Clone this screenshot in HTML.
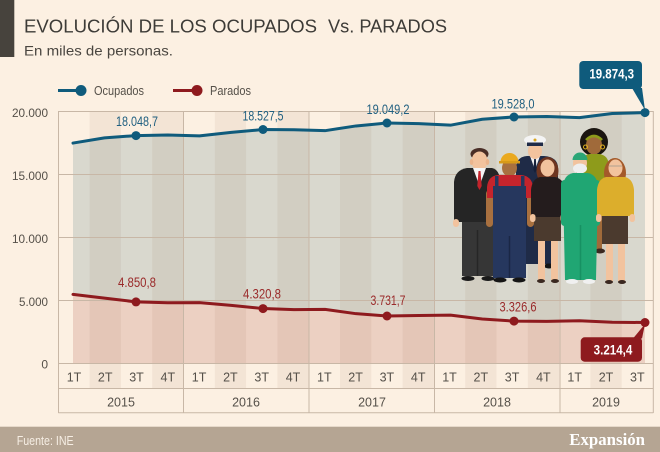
<!DOCTYPE html>
<html><head><meta charset="utf-8"><style>
html,body{margin:0;padding:0;background:#fcf0e2;}
svg{display:block;font-family:"Liberation Sans",sans-serif;}
</style></head><body>
<svg width="660" height="452" viewBox="0 0 660 452" xmlns="http://www.w3.org/2000/svg">
<rect x="0" y="0" width="660" height="452" fill="#fcf0e2"/>
<rect x="0" y="0" width="14.3" height="57" fill="#47433d"/>
<text x="24" y="32.3" font-size="18.5" fill="#3d3b37" textLength="293" lengthAdjust="spacingAndGlyphs">EVOLUCIÓN DE LOS OCUPADOS</text>
<text x="328" y="32.3" font-size="18.5" fill="#3d3b37" textLength="119" lengthAdjust="spacingAndGlyphs">Vs. PARADOS</text>
<text x="24" y="55.7" font-size="14" fill="#4a4640" textLength="149" lengthAdjust="spacingAndGlyphs">En miles de personas.</text>

<!-- legend -->
<line x1="58" y1="90.5" x2="80" y2="90.5" stroke="#0f5b7c" stroke-width="3"/>
<circle cx="81" cy="90.5" r="5.5" fill="#0f5b7c"/>
<text x="94" y="95.2" font-size="12.5" fill="#555049" textLength="50" lengthAdjust="spacingAndGlyphs">Ocupados</text>
<line x1="173" y1="90.5" x2="196" y2="90.5" stroke="#8e1a1e" stroke-width="3"/>
<circle cx="197" cy="90.5" r="5.5" fill="#8e1a1e"/>
<text x="210" y="95.2" font-size="12.5" fill="#555049" textLength="41" lengthAdjust="spacingAndGlyphs">Parados</text>

<!-- fills -->
<polygon fill="#d9d8ce" points="73,143.07 104.5,137.88 136,135.59 167.75,135.01 199.5,135.83 231.25,132.41 263,129.55 294,129.8 325,130.68 356,125.95 387,122.98 418.75,123.62 450.5,125.18 482.25,119.26 514,116.95 546.75,116.49 579.5,117.66 612.25,113.46 645,112.58 645,322.5 612.25,322.29 579.5,320.74 546.75,321.37 514,321.08 482.25,319.03 450.5,315.17 418.75,315.54 387,315.98 356,313.68 325,309.39 294,309.6 263,308.56 231.25,305.36 199.5,302.63 167.75,302.78 136,301.88 104.5,298.12 73,294.4"/>
<polygon fill="#ecd0c2" points="73,294.4 104.5,298.12 136,301.88 167.75,302.78 199.5,302.63 231.25,305.36 263,308.56 294,309.6 325,309.39 356,313.68 387,315.98 418.75,315.54 450.5,315.17 482.25,319.03 514,321.08 546.75,321.37 579.5,320.74 612.25,322.29 645,322.5 645,363 73,363"/>

<!-- stripes -->
<g fill="rgb(90,45,0)" fill-opacity="0.055">
<rect x="89.6" y="111" width="31.3" height="277"/>
<rect x="152.2" y="111" width="31.3" height="277"/>
<rect x="214.8" y="111" width="31.3" height="277"/>
<rect x="277.4" y="111" width="31.3" height="277"/>
<rect x="340.0" y="111" width="31.3" height="277"/>
<rect x="402.6" y="111" width="31.3" height="277"/>
<rect x="465.2" y="111" width="31.3" height="277"/>
<rect x="527.8" y="111" width="31.3" height="277"/>
<rect x="590.4" y="111" width="31.3" height="277"/>
</g>

<!-- grid -->
<g stroke="#c8b7a6" stroke-width="1">
<line x1="58.3" y1="111.5" x2="653.3" y2="111.5"/>
<line x1="58.3" y1="174.5" x2="653.3" y2="174.5"/>
<line x1="58.3" y1="237.5" x2="653.3" y2="237.5"/>
<line x1="58.3" y1="300.5" x2="653.3" y2="300.5"/>
<line x1="58.3" y1="363.5" x2="653.3" y2="363.5"/>
<line x1="58.3" y1="388.5" x2="653.3" y2="388.5"/>
<line x1="58.3" y1="412.7" x2="653.3" y2="412.7"/>
<line x1="58.5" y1="111" x2="58.5" y2="413"/>
<line x1="183.5" y1="111" x2="183.5" y2="413"/>
<line x1="309" y1="111" x2="309" y2="413"/>
<line x1="434.5" y1="111" x2="434.5" y2="413"/>
<line x1="560" y1="111" x2="560" y2="413"/>
<line x1="653.3" y1="111" x2="653.3" y2="413"/>
</g>

<!-- y labels -->
<g font-size="12" fill="#555049" text-anchor="end">
<text x="48" y="117" textLength="36" lengthAdjust="spacingAndGlyphs">20.000</text>
<text x="48" y="180" textLength="36" lengthAdjust="spacingAndGlyphs">15.000</text>
<text x="48" y="243" textLength="36" lengthAdjust="spacingAndGlyphs">10.000</text>
<text x="48" y="306" textLength="29" lengthAdjust="spacingAndGlyphs">5.000</text>
<text x="48" y="368.5">0</text>
</g>

<!-- x tick labels -->
<g font-size="12.5" fill="#555049" text-anchor="middle">
<text x="74" y="381.5">1T</text><text x="105.2" y="381.5">2T</text><text x="136.5" y="381.5">3T</text><text x="167.8" y="381.5">4T</text>
<text x="199.1" y="381.5">1T</text><text x="230.4" y="381.5">2T</text><text x="261.7" y="381.5">3T</text><text x="293" y="381.5">4T</text>
<text x="324.3" y="381.5">1T</text><text x="355.6" y="381.5">2T</text><text x="386.9" y="381.5">3T</text><text x="418.2" y="381.5">4T</text>
<text x="449.5" y="381.5">1T</text><text x="480.8" y="381.5">2T</text><text x="512.1" y="381.5">3T</text><text x="543.4" y="381.5">4T</text>
<text x="574.7" y="381.5">1T</text><text x="606" y="381.5">2T</text><text x="637.3" y="381.5">3T</text>
<text x="121" y="406.5">2015</text>
<text x="246" y="406.5">2016</text>
<text x="372" y="406.5">2017</text>
<text x="497" y="406.5">2018</text>
<text x="606" y="406.5">2019</text>
</g>

<!-- people illustration -->
<g>
<!-- captain (back) -->
<path d="M516,168 Q516,157 527,156 L544,156 Q558,157 558,168 L558,264 L516,264 Z" fill="#1f2b47"/>
<polygon points="530,156 540,156 535,170" fill="#f2f2f2"/>
<polygon points="534.2,158 535.8,158 536.5,170 535,173 533.5,170" fill="#15203a"/>
<ellipse cx="535" cy="151" rx="7" ry="8" fill="#f2c39e"/>
<ellipse cx="535" cy="140" rx="11" ry="5" fill="#f4f4f4"/>
<rect x="527" y="142.5" width="16" height="3.5" fill="#1f2b47"/>
<circle cx="535" cy="140" r="1.5" fill="#d9a520"/>
<ellipse cx="549" cy="266" rx="5" ry="2.5" fill="#151515"/>
<!-- green dress woman (back) -->
<circle cx="594" cy="142" r="14" fill="#1b1510"/>
<rect x="591" y="150" width="6" height="6" fill="#a06a3a"/>
<ellipse cx="594" cy="145" rx="8" ry="9.5" fill="#a06a3a"/>
<path d="M586,140 Q594,132 602,140" stroke="#8e9b1b" stroke-width="2.5" fill="none"/>
<circle cx="585.5" cy="147" r="2" fill="none" stroke="#e0b020" stroke-width="1"/>
<circle cx="602.5" cy="147" r="2" fill="none" stroke="#e0b020" stroke-width="1"/>
<rect x="576" y="160" width="6" height="60" rx="3" fill="#a06a3a"/>
<path d="M580,165 Q581,155 590,154 L599,154 Q608,155 609,165 L609,212 L580,212 Z" fill="#8e9b1b"/>
<rect x="595" y="212" width="7" height="38" fill="#a06a3a"/>
<ellipse cx="600" cy="251" rx="5" ry="2.5" fill="#3a2820"/>
<!-- suit man -->
<ellipse cx="479.5" cy="154" rx="9" ry="6" fill="#4a2e26"/>
<ellipse cx="479.5" cy="161" rx="8" ry="9.5" fill="#f2c39e"/>
<ellipse cx="471.5" cy="162" rx="1.8" ry="3" fill="#eab48c"/>
<ellipse cx="487.5" cy="162" rx="1.8" ry="3" fill="#eab48c"/>
<rect x="462" y="217" width="31" height="59" fill="#363636"/>
<line x1="477.5" y1="230" x2="477.5" y2="276" stroke="#262626" stroke-width="1.5"/>
<path d="M454,182 Q455,170 467,168 L492,168 Q500,170 500,182 L500,222 L454,222 Z" fill="#252525"/>
<polygon points="473,168 486,168 479.5,186" fill="#f5f5f5"/>
<polygon points="478.5,171 480.5,171 481.7,186 479.5,190 477.3,186" fill="#c4232b"/>
<rect x="453" y="219" width="6" height="8" rx="3" fill="#f2c39e"/>
<rect x="494" y="219" width="6" height="8" rx="3" fill="#f2c39e"/>
<ellipse cx="468" cy="278.5" rx="6.5" ry="2.5" fill="#1a1a1a"/>
<ellipse cx="488" cy="278.5" rx="6.5" ry="2.5" fill="#1a1a1a"/>
<!-- worker -->
<ellipse cx="509.5" cy="168" rx="7.5" ry="8.5" fill="#a8703f"/>
<path d="M500.5,162 A9,9 0 0 1 518.5,162 Z" fill="#eaa91f"/>
<rect x="499" y="161" width="21" height="2.5" fill="#d79a18"/>
<rect x="486" y="190" width="7" height="37" rx="3.5" fill="#a8703f"/>
<rect x="527" y="190" width="7" height="37" rx="3.5" fill="#a8703f"/>
<path d="M487,187 Q488,176 498,175 L521,175 Q532,176 533,187 L533,198 L487,198 Z" fill="#c5242c"/>
<rect x="493" y="186" width="33" height="92" fill="#26375e"/>
<rect x="495" y="176" width="3.5" height="12" fill="#26375e"/>
<rect x="521" y="176" width="3.5" height="12" fill="#26375e"/>
<line x1="509.5" y1="236" x2="509.5" y2="278" stroke="#1a2745" stroke-width="1.5"/>
<ellipse cx="500" cy="280" rx="6.5" ry="2.5" fill="#151515"/>
<ellipse cx="519" cy="280" rx="6.5" ry="2.5" fill="#151515"/>
<!-- dark jacket woman -->
<ellipse cx="547.5" cy="171" rx="11" ry="14" fill="#6e3520"/>
<ellipse cx="547.5" cy="168" rx="7" ry="8.5" fill="#f2c39e"/>
<rect x="538" y="240" width="7" height="40" fill="#f2c39e"/>
<rect x="551" y="240" width="7" height="40" fill="#f2c39e"/>
<rect x="534" y="212" width="27" height="29" fill="#4b3a2e"/>
<path d="M531,190 Q532,179 540,177 L555,177 Q564,179 565,190 L565,217 L531,217 Z" fill="#241c1d"/>
<rect x="530" y="214" width="5.5" height="8" rx="2.7" fill="#f2c39e"/>
<rect x="560.5" y="214" width="5.5" height="8" rx="2.7" fill="#f2c39e"/>
<ellipse cx="541" cy="281" rx="4" ry="2" fill="#3a2820"/>
<ellipse cx="555" cy="281" rx="4" ry="2" fill="#3a2820"/>
<!-- doctor -->
<ellipse cx="580" cy="163" rx="7" ry="8.5" fill="#f2c39e"/>
<path d="M572.5,160 A7.5,7.5 0 0 1 587.5,160 Z" fill="#2aa676"/>
<ellipse cx="580" cy="168.5" rx="7" ry="5" fill="#eeeeee"/>
<rect x="561" y="180" width="7" height="46" rx="3.5" fill="#20a673"/>
<rect x="593" y="180" width="7" height="46" rx="3.5" fill="#20a673"/>
<path d="M563,186 Q564,175 573,173 L588,173 Q597,175 598,186 L596,280 L565,280 Z" fill="#20a673"/>
<line x1="580.5" y1="225" x2="580.5" y2="280" stroke="#179163" stroke-width="1.5"/>
<ellipse cx="572" cy="281.5" rx="6" ry="2.5" fill="#f0f0f0"/>
<ellipse cx="589" cy="281.5" rx="6" ry="2.5" fill="#f0f0f0"/>
<!-- yellow woman -->
<ellipse cx="615" cy="173" rx="11" ry="15" fill="#a45a2a"/>
<ellipse cx="615.5" cy="168" rx="7" ry="8.5" fill="#f2c39e"/>
<line x1="609" y1="166" x2="622" y2="166" stroke="#b0a090" stroke-width="1"/>
<rect x="606" y="243" width="7" height="38" fill="#f2c39e"/>
<rect x="618" y="243" width="7" height="38" fill="#f2c39e"/>
<rect x="602" y="213" width="26" height="31" fill="#4b3a2e"/>
<path d="M597,190 Q598,179 606,177 L625,177 Q633,179 634,190 L634,216 L597,216 Z" fill="#dcae2c"/>
<rect x="596" y="214" width="5.5" height="8" rx="2.7" fill="#f2c39e"/>
<rect x="629.5" y="214" width="5.5" height="8" rx="2.7" fill="#f2c39e"/>
<ellipse cx="609" cy="282" rx="4" ry="2" fill="#3a2820"/>
<ellipse cx="622" cy="282" rx="4" ry="2" fill="#3a2820"/>
</g>

<!-- series lines -->
<polyline fill="none" stroke="#0f5b7c" stroke-width="3" stroke-linejoin="round" stroke-linecap="round" points="73,143.07 104.5,137.88 136,135.59 167.75,135.01 199.5,135.83 231.25,132.41 263,129.55 294,129.8 325,130.68 356,125.95 387,122.98 418.75,123.62 450.5,125.18 482.25,119.26 514,116.95 546.75,116.49 579.5,117.66 612.25,113.46 645,112.58"/>
<polyline fill="none" stroke="#8e1a1e" stroke-width="3" stroke-linejoin="round" stroke-linecap="round" points="73,294.4 104.5,298.12 136,301.88 167.75,302.78 199.5,302.63 231.25,305.36 263,308.56 294,309.6 325,309.39 356,313.68 387,315.98 418.75,315.54 450.5,315.17 482.25,319.03 514,321.08 546.75,321.37 579.5,320.74 612.25,322.29 645,322.5"/>
<g fill="#0f5b7c">
<circle cx="136" cy="135.6" r="4.5"/><circle cx="263" cy="129.5" r="4.5"/><circle cx="387" cy="123" r="4.5"/><circle cx="514" cy="117" r="4.5"/><circle cx="645" cy="112.6" r="4.5"/>
</g>
<g fill="#8e1a1e">
<circle cx="136" cy="301.9" r="4.5"/><circle cx="263" cy="308.6" r="4.5"/><circle cx="387" cy="316" r="4.5"/><circle cx="514" cy="321.1" r="4.5"/><circle cx="645" cy="322.5" r="4.5"/>
</g>

<!-- data labels -->
<g font-size="13.5" fill="#1f5f80" text-anchor="middle">
<text x="137" y="126" textLength="42" lengthAdjust="spacingAndGlyphs">18.048,7</text>
<text x="263" y="120.7" textLength="41" lengthAdjust="spacingAndGlyphs">18.527,5</text>
<text x="388" y="114" textLength="43" lengthAdjust="spacingAndGlyphs">19.049,2</text>
<text x="513" y="108.7" textLength="43" lengthAdjust="spacingAndGlyphs">19.528,0</text>
</g>
<g font-size="13.5" fill="#9a2a2a" text-anchor="middle">
<text x="137" y="287" textLength="38" lengthAdjust="spacingAndGlyphs">4.850,8</text>
<text x="262" y="298.3" textLength="38" lengthAdjust="spacingAndGlyphs">4.320,8</text>
<text x="388" y="305" textLength="35" lengthAdjust="spacingAndGlyphs">3.731,7</text>
<text x="518" y="311.7" textLength="37" lengthAdjust="spacingAndGlyphs">3.326,6</text>
</g>

<!-- callouts -->
<rect x="579.3" y="61" width="62.7" height="28" rx="4" fill="#0f5b7c"/>
<polygon points="632,88 642,88 645,110" fill="#0f5b7c"/>
<text x="611.7" y="78.5" font-size="13.5" font-weight="bold" fill="#ffffff" text-anchor="middle" textLength="44.7" lengthAdjust="spacingAndGlyphs">19.874,3</text>
<rect x="580.7" y="337.3" width="61.3" height="24.4" rx="4" fill="#8e1a1e"/>
<polygon points="633,338.5 642,338.5 645,324" fill="#8e1a1e"/>
<text x="613" y="354.3" font-size="14" font-weight="bold" fill="#ffffff" text-anchor="middle" textLength="38.7" lengthAdjust="spacingAndGlyphs">3.214,4</text>

<!-- footer -->
<rect x="0" y="426.7" width="660" height="25.3" fill="#b5a593"/>
<text x="16.7" y="445" font-size="13" fill="#f6eee4" textLength="57" lengthAdjust="spacingAndGlyphs">Fuente: INE</text>
<text x="569.3" y="445" font-family="Liberation Serif, serif" font-size="17" font-weight="bold" fill="#ffffff" textLength="75.7" lengthAdjust="spacingAndGlyphs">Expansión</text>
</svg>
</body></html>
